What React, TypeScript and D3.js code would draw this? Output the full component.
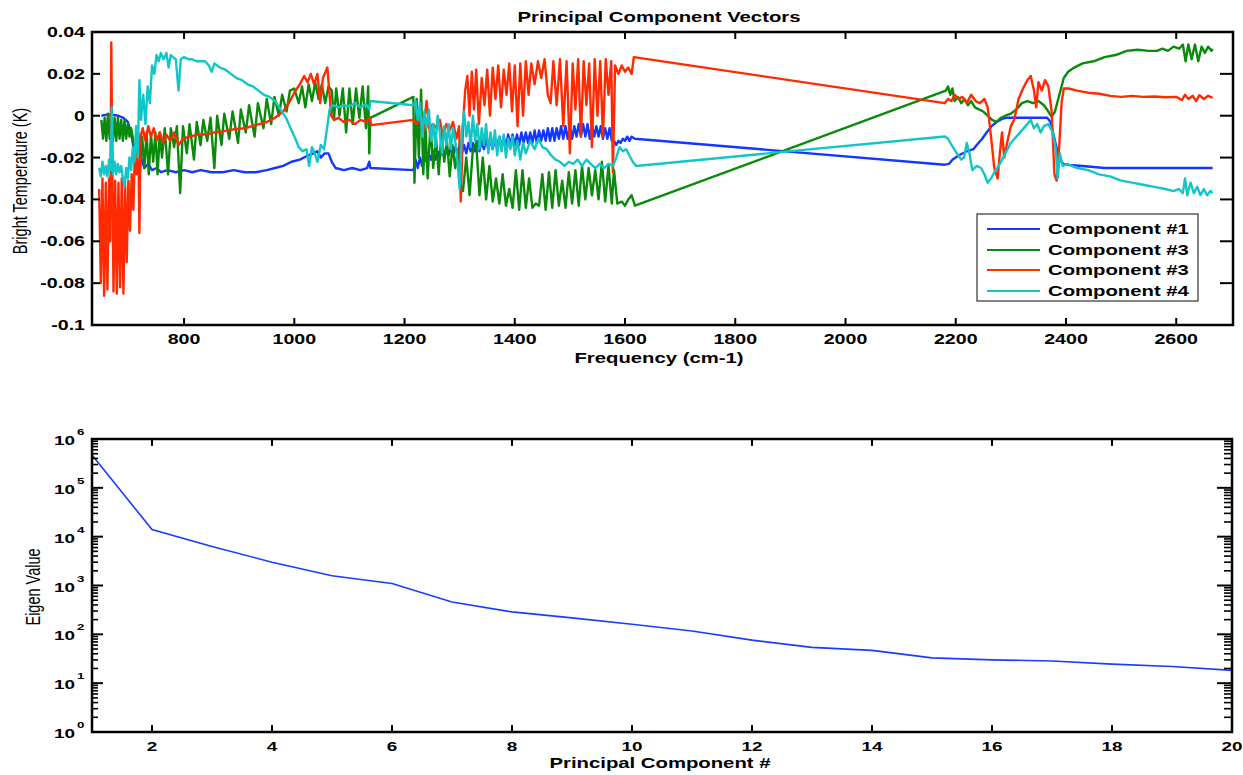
import * as d3 from "d3";

type Pt = [number, number];

// principal component vectors, [frequency cm-1, value]
const comp1: Pt[] = [
  [650, 0], [660, 0.0005], [670, 0.0005], [680, 0], [690, -0.001], [698, -0.003], [704, -0.008],
  [710, -0.018], [716, -0.022], [722, -0.02], [728, -0.025], [735, -0.023], [742, -0.026], [750, -0.025],
  [758, -0.027], [770, -0.026], [785, -0.027], [800, -0.026], [815, -0.027], [830, -0.026], [850, -0.027],
  [870, -0.027], [890, -0.026], [910, -0.027], [930, -0.027], [950, -0.026], [965, -0.025], [980, -0.024],
  [995, -0.022], [1010, -0.021], [1025, -0.019], [1035, -0.018], [1042, -0.017], [1048, -0.02], [1055, -0.018],
  [1062, -0.018], [1068, -0.022], [1075, -0.025], [1090, -0.026], [1105, -0.025], [1120, -0.026], [1132, -0.025],
  [1136, -0.022], [1138, -0.025], [1216, -0.026], [1220, -0.021], [1224, -0.025], [1228, -0.02], [1232, -0.024],
  [1236, -0.019], [1240, -0.022], [1244, -0.018], [1248, -0.021], [1252, -0.017], [1256, -0.021], [1260, -0.017],
  [1264, -0.02], [1268, -0.016], [1272, -0.02], [1276, -0.016], [1280, -0.019], [1284, -0.015], [1288, -0.019],
  [1292, -0.015], [1296, -0.018], [1300, -0.014], [1304, -0.018], [1308, -0.014], [1312, -0.018], [1316, -0.013],
  [1320, -0.017], [1324, -0.013], [1328, -0.017], [1332, -0.012], [1336, -0.017], [1340, -0.012], [1344, -0.016],
  [1348, -0.011], [1352, -0.016], [1356, -0.011], [1360, -0.016], [1364, -0.011], [1368, -0.015], [1372, -0.01],
  [1376, -0.015], [1380, -0.01], [1384, -0.015], [1388, -0.009], [1392, -0.014], [1396, -0.009], [1400, -0.014],
  [1404, -0.009], [1408, -0.014], [1412, -0.008], [1416, -0.013], [1420, -0.008], [1424, -0.013], [1428, -0.008],
  [1432, -0.013], [1436, -0.007], [1440, -0.013], [1444, -0.007], [1448, -0.012], [1452, -0.007], [1456, -0.012],
  [1460, -0.006], [1464, -0.012], [1468, -0.006], [1472, -0.012], [1476, -0.006], [1480, -0.011], [1484, -0.005],
  [1488, -0.011], [1492, -0.005], [1496, -0.011], [1500, -0.005], [1504, -0.011], [1508, -0.005], [1512, -0.01],
  [1516, -0.004], [1520, -0.01], [1524, -0.004], [1528, -0.01], [1532, -0.004], [1536, -0.011], [1540, -0.004],
  [1544, -0.01], [1548, -0.005], [1552, -0.01], [1556, -0.005], [1560, -0.011], [1564, -0.006], [1568, -0.011],
  [1572, -0.006], [1576, -0.012], [1580, -0.012], [1584, -0.014], [1588, -0.012], [1592, -0.013], [1596, -0.011],
  [1600, -0.012], [1604, -0.01], [1608, -0.012], [1612, -0.01], [1618, -0.011],
  [2180, -0.0234], [2188, -0.023], [2194, -0.021], [2205, -0.019], [2220, -0.017], [2232, -0.016], [2238, -0.014],
  [2248, -0.011], [2256, -0.008], [2265, -0.005], [2274, -0.003], [2284, -0.0015], [2292, -0.001], [2330, -0.001],
  [2366, -0.001], [2372, -0.003], [2380, -0.012], [2388, -0.021], [2395, -0.023], [2405, -0.0235], [2430, -0.024],
  [2470, -0.025], [2520, -0.025], [2570, -0.025], [2620, -0.025], [2666, -0.025],
];

const comp2: Pt[] = [
  [650, -0.002], [653, -0.011], [656, -0.001], [659, -0.012], [662, 0.001], [665, -0.011], [668, 0.002],
  [671, -0.012], [674, -0.001], [677, -0.012], [680, -0.001], [683, -0.011], [686, -0.002], [689, -0.012],
  [692, -0.002], [695, -0.011], [698, -0.004], [701, -0.01], [704, -0.006], [708, -0.012], [712, -0.02],
  [716, -0.008], [720, -0.027], [724, -0.01], [728, -0.025], [732, -0.008], [736, -0.028], [740, -0.009],
  [744, -0.022], [748, -0.008], [752, -0.028], [756, -0.008], [760, -0.02], [765, -0.006], [771, -0.028],
  [776, -0.006], [782, -0.015], [787, -0.005], [793, -0.037], [798, -0.005], [805, -0.018], [810, -0.004],
  [818, -0.021], [823, -0.003], [830, -0.014], [835, -0.002], [842, -0.012], [848, -0.001], [855, -0.025],
  [860, 0.0], [868, -0.014], [873, 0.001], [882, -0.011], [888, 0.002], [898, -0.013], [903, 0.003],
  [912, -0.008], [918, 0.005], [928, -0.01], [934, 0.006], [944, -0.006], [950, 0.008], [958, -0.004],
  [964, 0.009], [972, 0.0], [978, 0.01], [986, 0.002], [992, 0.012], [1000, 0.013], [1008, 0.006],
  [1014, 0.014], [1020, 0.004], [1026, 0.015], [1032, 0.007], [1038, 0.016], [1044, 0.008], [1050, 0.015],
  [1056, 0.006], [1062, 0.014], [1068, 0.012], [1072, -0.002], [1076, 0.013], [1082, 0.0], [1088, 0.013],
  [1094, -0.008], [1100, 0.013], [1106, -0.004], [1112, 0.013], [1118, -0.001], [1124, 0.014], [1130, -0.006],
  [1134, 0.014], [1136, -0.018], [1138, -0.001], [1216, 0.009], [1218, -0.032], [1222, 0.008], [1226, -0.02],
  [1230, 0.0124], [1234, -0.028], [1238, -0.005], [1242, -0.03], [1247, -0.004], [1252, -0.025], [1257, -0.01],
  [1262, -0.028], [1267, -0.008], [1272, -0.022], [1277, -0.012], [1282, -0.029], [1287, -0.014], [1292, -0.025],
  [1297, -0.016], [1302, -0.033], [1306, -0.036], [1312, -0.02], [1318, -0.038], [1324, -0.016], [1330, -0.013],
  [1336, -0.038], [1342, -0.02], [1348, -0.04], [1354, -0.024], [1360, -0.041], [1366, -0.03], [1372, -0.042],
  [1378, -0.028], [1384, -0.043], [1390, -0.035], [1396, -0.044], [1402, -0.026], [1408, -0.045], [1414, -0.026],
  [1420, -0.044], [1426, -0.03], [1432, -0.044], [1438, -0.042], [1444, -0.043], [1450, -0.028], [1456, -0.045],
  [1462, -0.027], [1468, -0.044], [1474, -0.026], [1480, -0.043], [1486, -0.031], [1492, -0.044], [1498, -0.027],
  [1504, -0.042], [1510, -0.026], [1516, -0.043], [1522, -0.024], [1528, -0.04], [1534, -0.025], [1540, -0.038],
  [1546, -0.026], [1552, -0.04], [1558, -0.022], [1564, -0.041], [1570, -0.024], [1576, -0.042], [1580, -0.026],
  [1586, -0.042], [1594, -0.041], [1600, -0.043], [1606, -0.04], [1612, -0.038], [1618, -0.043],
  [2182, 0.012], [2186, 0.014], [2190, 0.01], [2194, 0.013], [2198, 0.007], [2204, 0.009], [2210, 0.006],
  [2216, 0.008], [2222, 0.005], [2228, 0.007], [2235, 0.004], [2242, 0.003], [2250, 0.002], [2258, 0.0],
  [2266, -0.002], [2274, -0.003], [2282, -0.001], [2290, 0.0], [2300, 0.001], [2310, 0.003], [2320, 0.006],
  [2330, 0.007], [2340, 0.006], [2350, 0.007], [2360, 0.005], [2368, 0.002], [2374, -0.0005], [2380, 0.002],
  [2388, 0.01], [2396, 0.018], [2404, 0.021], [2415, 0.023], [2430, 0.025], [2450, 0.026], [2470, 0.028],
  [2490, 0.029], [2510, 0.031], [2530, 0.0315], [2550, 0.031], [2565, 0.031], [2575, 0.032], [2585, 0.031],
  [2595, 0.033], [2605, 0.032], [2612, 0.034], [2617, 0.026], [2622, 0.034], [2628, 0.027], [2634, 0.034],
  [2640, 0.026], [2646, 0.033], [2652, 0.03], [2658, 0.033], [2664, 0.031], [2666, 0.032],
];

const comp3: Pt[] = [
  [646, -0.035], [649, -0.08], [652, -0.03], [655, -0.086], [658, -0.032], [661, -0.083], [664, -0.03],
  [666, -0.06], [668, 0.035], [670, -0.03], [672, -0.084], [675, -0.031], [678, -0.085], [681, -0.032],
  [684, -0.082], [687, -0.03], [690, -0.085], [693, -0.033], [696, -0.07], [699, -0.031], [702, -0.055],
  [705, -0.028], [708, -0.045], [711, -0.015], [714, -0.028], [717, -0.008], [719, -0.056], [721, -0.01],
  [725, -0.006], [730, -0.012], [735, -0.005], [740, -0.01], [745, -0.006], [750, -0.012], [756, -0.008],
  [762, -0.013], [768, -0.009], [775, -0.012], [782, -0.008], [790, -0.014], [798, -0.011], [810, -0.01],
  [825, -0.009], [840, -0.009], [855, -0.008], [870, -0.0075], [890, -0.0065], [910, -0.006], [930, -0.0045],
  [950, -0.003], [965, -0.001], [980, 0.002], [990, 0.006], [1000, 0.011], [1010, 0.015], [1018, 0.019],
  [1024, 0.016], [1030, 0.02], [1036, 0.015], [1042, 0.02], [1047, 0.006], [1052, 0.018], [1060, 0.023],
  [1064, 0.01], [1067, 0.0], [1072, -0.002], [1080, -0.001], [1090, -0.003], [1100, -0.002], [1110, -0.004],
  [1120, -0.002], [1130, -0.003], [1136, -0.001], [1140, -0.0045], [1216, -0.002], [1222, -0.004], [1228, -0.002],
  [1234, -0.007], [1240, 0.007], [1246, -0.008], [1252, -0.004], [1258, -0.006], [1264, -0.002], [1270, -0.01],
  [1276, -0.004], [1282, -0.007], [1288, -0.003], [1294, -0.011], [1299, -0.005], [1302, -0.041], [1306, -0.005],
  [1310, 0.012], [1314, 0.019], [1318, 0.0], [1322, 0.021], [1326, 0.003], [1330, 0.022], [1335, -0.004],
  [1340, 0.018], [1345, 0.005], [1350, 0.022], [1355, 0.0], [1360, 0.023], [1365, 0.008], [1370, 0.024],
  [1375, 0.004], [1380, 0.022], [1385, 0.01], [1390, 0.025], [1395, 0.002], [1400, 0.024], [1405, -0.005],
  [1410, 0.025], [1415, 0.0], [1420, 0.026], [1425, 0.01], [1430, 0.025], [1436, 0.015], [1442, 0.026],
  [1448, 0.018], [1454, 0.027], [1460, 0.01], [1465, 0.006], [1470, 0.026], [1476, 0.005], [1482, 0.027],
  [1488, -0.005], [1494, 0.026], [1500, -0.018], [1505, 0.025], [1510, 0.003], [1515, 0.027], [1520, -0.01],
  [1525, 0.026], [1530, 0.005], [1535, 0.025], [1540, -0.015], [1545, 0.027], [1550, 0.0], [1555, 0.026],
  [1560, -0.01], [1565, 0.027], [1570, 0.01], [1575, 0.026], [1578, -0.027], [1582, 0.024], [1588, 0.02],
  [1594, 0.024], [1600, 0.021], [1606, 0.023], [1612, 0.02], [1616, 0.028],
  [2180, 0.006], [2186, 0.008], [2192, 0.007], [2198, 0.01], [2205, 0.008], [2212, 0.009], [2220, 0.006],
  [2228, 0.01], [2236, 0.007], [2244, 0.006], [2252, 0.008], [2258, 0.004], [2264, -0.01], [2270, -0.025],
  [2276, -0.03], [2280, -0.018], [2284, -0.008], [2288, -0.02], [2294, -0.012], [2300, -0.005], [2306, -0.002],
  [2314, 0.008], [2322, 0.013], [2330, 0.017], [2336, 0.019], [2342, 0.012], [2346, 0.004], [2350, 0.016],
  [2356, 0.012], [2362, 0.017], [2368, 0.014], [2374, 0.002], [2379, -0.028], [2383, -0.031], [2387, -0.018],
  [2392, 0.006], [2396, 0.013], [2405, 0.013], [2420, 0.012], [2440, 0.011], [2460, 0.0105], [2480, 0.0095],
  [2500, 0.009], [2520, 0.0095], [2540, 0.009], [2560, 0.0092], [2580, 0.0088], [2600, 0.009], [2610, 0.0075],
  [2616, 0.01], [2622, 0.008], [2630, 0.0095], [2636, 0.007], [2642, 0.0098], [2650, 0.008], [2658, 0.0095],
  [2666, 0.0085],
];

const comp4: Pt[] = [
  [646, -0.025], [649, -0.029], [652, -0.022], [655, -0.028], [658, -0.024], [661, -0.029], [664, -0.021],
  [667, -0.026], [669, 0.004], [671, -0.028], [674, -0.022], [677, -0.028], [680, -0.023], [683, -0.027],
  [686, -0.024], [689, -0.03], [692, -0.034], [695, -0.025], [698, -0.03], [701, -0.02], [704, -0.026],
  [707, -0.015], [710, -0.022], [713, -0.005], [716, -0.02], [719, 0.017], [722, -0.002], [726, 0.01],
  [730, -0.004], [734, 0.014], [738, 0.006], [742, 0.024], [746, 0.02], [750, 0.029], [754, 0.026],
  [758, 0.03], [763, 0.027], [768, 0.03], [772, 0.023], [776, 0.029], [780, 0.028], [785, 0.027],
  [790, 0.012], [794, 0.027], [800, 0.028], [808, 0.027], [815, 0.027], [822, 0.026], [830, 0.026],
  [838, 0.026], [845, 0.024], [850, 0.021], [855, 0.025], [865, 0.023], [875, 0.022], [885, 0.02],
  [895, 0.018], [905, 0.017], [915, 0.015], [925, 0.014], [935, 0.012], [945, 0.01], [955, 0.009],
  [965, 0.007], [975, 0.003], [985, -0.001], [995, -0.007], [1002, -0.011], [1008, -0.015], [1015, -0.017],
  [1022, -0.016], [1027, -0.024], [1032, -0.015], [1037, -0.018], [1042, -0.022], [1048, -0.014], [1054, -0.016],
  [1060, -0.005], [1064, 0.003], [1070, 0.005], [1080, 0.004], [1090, 0.005], [1100, 0.0045], [1110, 0.006],
  [1120, 0.004], [1130, 0.0055], [1136, 0.003], [1138, 0.007], [1216, 0.005], [1220, 0.007], [1224, -0.002],
  [1228, 0.006], [1232, -0.01], [1236, 0.002], [1240, -0.006], [1244, 0.003], [1248, -0.012], [1252, -0.004],
  [1256, -0.015], [1260, 0.0], [1264, -0.008], [1268, -0.018], [1272, -0.005], [1276, -0.014], [1280, -0.004],
  [1284, -0.016], [1288, -0.006], [1292, -0.012], [1296, -0.022], [1300, -0.035], [1304, -0.008], [1308, 0.002],
  [1312, -0.01], [1316, -0.003], [1320, -0.015], [1324, 0.0], [1328, -0.012], [1332, -0.004], [1336, -0.016],
  [1340, -0.006], [1344, -0.014], [1348, -0.004], [1352, -0.018], [1356, -0.008], [1360, -0.016], [1364, -0.007],
  [1368, -0.019], [1372, -0.01], [1376, -0.017], [1380, -0.009], [1384, -0.02], [1388, -0.011], [1392, -0.016],
  [1396, -0.01], [1400, -0.019], [1405, -0.012], [1410, -0.021], [1415, -0.013], [1420, -0.018], [1428, -0.012],
  [1436, -0.016], [1443, -0.011], [1450, -0.015], [1458, -0.016], [1466, -0.019], [1474, -0.021], [1482, -0.022],
  [1490, -0.024], [1498, -0.022], [1506, -0.023], [1514, -0.021], [1522, -0.024], [1530, -0.021], [1538, -0.023],
  [1546, -0.025], [1554, -0.023], [1562, -0.025], [1570, -0.023], [1578, -0.024], [1584, -0.02], [1590, -0.015],
  [1596, -0.017], [1602, -0.016], [1608, -0.019], [1614, -0.022], [1620, -0.024],
  [2180, -0.0099], [2186, -0.011], [2194, -0.0147], [2202, -0.018], [2210, -0.021], [2215, -0.02], [2220, -0.013],
  [2225, -0.018], [2230, -0.026], [2238, -0.024], [2246, -0.025], [2252, -0.028], [2258, -0.032], [2264, -0.03],
  [2270, -0.027], [2278, -0.024], [2286, -0.02], [2294, -0.016], [2300, -0.013], [2310, -0.01], [2320, -0.007],
  [2330, -0.004], [2336, -0.002], [2342, -0.006], [2348, -0.004], [2354, -0.008], [2360, -0.005], [2368, -0.004],
  [2376, -0.008], [2381, -0.015], [2385, -0.03], [2389, -0.018], [2394, -0.024], [2402, -0.023], [2420, -0.025],
  [2440, -0.026], [2460, -0.028], [2480, -0.029], [2500, -0.031], [2520, -0.032], [2540, -0.033], [2560, -0.034],
  [2580, -0.035], [2595, -0.036], [2605, -0.035], [2612, -0.037], [2616, -0.03], [2620, -0.038], [2626, -0.032],
  [2632, -0.037], [2638, -0.034], [2644, -0.038], [2650, -0.035], [2656, -0.038], [2662, -0.036], [2666, -0.037],
];

const seriesNames = ["Component #1", "Component #3", "Component #3", "Component #4"];
const seriesColors = ["#1238ff", "#0a8a0a", "#ff2a00", "#12c6c8"];

const freqTicks = [800, 1000, 1200, 1400, 1600, 1800, 2000, 2200, 2400, 2600];
const tempTicks = [-0.1, -0.08, -0.06, -0.04, -0.02, 0, 0.02, 0.04];
const tempLabels = ["-0.1", "-0.08", "-0.06", "-0.04", "-0.02", "0", "0.02", "0.04"];

// eigen values per principal component
const compIndex = d3.range(1, 21);
const eigenValues = [
  470000, 14000, 6300, 3000, 1580, 1100, 460, 288, 217, 161,
  117, 76, 54, 47, 33, 30, 28.5, 24.5, 22, 18.3,
];
const pcTicks = [2, 4, 6, 8, 10, 12, 14, 16, 18, 20];
const decades = [0, 1, 2, 3, 4, 5, 6];

const FONT = "'Liberation Sans', Arial, Helvetica, sans-serif";
const SX = 1.4;

const Txt = ({ x, y, anchor = "middle", size = 14, weight = "bold", children }: any) => (
  <text
    transform={`translate(${x},${y}) scale(${SX},1)`}
    textAnchor={anchor}
    fontSize={size}
    fontWeight={weight}
    fontFamily={FONT}
    fill="#000"
  >
    {children}
  </text>
);

const VTxt = ({ x, y, size = 14, children }: any) => (
  <text
    transform={`translate(${x},${y}) scale(${SX},1) rotate(-90)`}
    textAnchor="middle"
    fontSize={size}
    fontFamily={FONT}
    fill="#000"
  >
    {children}
  </text>
);

const App = () => {
  // top panel
  const L = 92, R = 1233, T1 = 32, B1 = 325;
  const x1 = d3.scaleLinear().domain([633, 2703]).range([L, R]);
  const y1 = d3.scaleLinear().domain([-0.1, 0.04]).range([B1, T1]);
  const line1 = d3.line<Pt>().x((d) => x1(d[0])).y((d) => y1(d[1]));
  const series = [comp1, comp2, comp3, comp4];

  // bottom panel
  const T2 = 439, B2 = 732, R2 = 1232;
  const x2 = d3.scaleLinear().domain([1, 20]).range([L, R2]);
  const y2 = d3.scaleLog().domain([1, 1e6]).range([B2, T2]);
  const line2 = d3.line<number>().x((_, i) => x2(compIndex[i])).y((d) => y2(d));

  const minor: number[] = [];
  decades.slice(0, -1).forEach((d) => {
    for (let k = 2; k <= 9; k++) minor.push(k * Math.pow(10, d));
  });

  const legX = 977, legY = 214;
  const legRows = [229, 250, 270, 291];

  return (
    <svg width={1243} height={775} style={{ position: "absolute", left: 0, top: 0, background: "#fff" }}>
      <rect width={1243} height={775} fill="#fff" />

      {/* ---------- top: principal component vectors ---------- */}
      <Txt x={659} y={22} size={14.5}>Principal Component Vectors</Txt>
      <g fill="none" strokeLinejoin="round">
        {series.map((s, i) => (
          <path key={i} d={line1(s) || undefined} stroke={seriesColors[i]} strokeWidth={2.4} />
        ))}
      </g>
      <g stroke="#000" strokeWidth={2}>
        {freqTicks.map((t) => (
          <g key={t}>
            <line x1={x1(t)} x2={x1(t)} y1={B1} y2={B1 - 7} />
            <line x1={x1(t)} x2={x1(t)} y1={T1} y2={T1 + 7} />
          </g>
        ))}
        {tempTicks.map((t) => (
          <g key={t}>
            <line x1={L} x2={L + 8} y1={y1(t)} y2={y1(t)} />
            <line x1={R} x2={R - 13} y1={y1(t)} y2={y1(t)} />
          </g>
        ))}
      </g>
      <rect x={L} y={T1} width={R - L} height={B1 - T1} fill="none" stroke="#000" strokeWidth={2.5} />
      {freqTicks.map((t) => (
        <Txt key={t} x={x1(t)} y={344} size={14}>{t}</Txt>
      ))}
      {tempTicks.map((t, i) => (
        <Txt key={t} x={85} y={y1(t) + 5} anchor="end" size={14}>{tempLabels[i]}</Txt>
      ))}
      <Txt x={659} y={363} size={14.5}>Frequency (cm-1)</Txt>
      <VTxt x={27} y={181} size={14.5}>Bright Temperature (K)</VTxt>

      {/* legend */}
      <rect x={legX} y={legY} width={221} height={87} fill="#fff" stroke="#333" strokeWidth={1.2} />
      {seriesNames.map((n, i) => (
        <g key={i}>
          <line x1={987} x2={1040} y1={legRows[i]} y2={legRows[i]} stroke={seriesColors[i]} strokeWidth={2} />
          <Txt x={1048} y={legRows[i] + 5} anchor="start" size={14.5}>{n}</Txt>
        </g>
      ))}

      {/* ---------- bottom: eigen values ---------- */}
      <path d={line2(eigenValues) || undefined} fill="none" stroke="#1a3cff" strokeWidth={1.6} />
      <g stroke="#000" strokeWidth={2}>
        {pcTicks.map((t) => (
          <g key={t}>
            <line x1={x2(t)} x2={x2(t)} y1={B2} y2={B2 - 7} />
            <line x1={x2(t)} x2={x2(t)} y1={T2} y2={T2 + 7} />
          </g>
        ))}
        {decades.map((d) => (
          <g key={d}>
            <line x1={L} x2={L + 11} y1={y2(Math.pow(10, d))} y2={y2(Math.pow(10, d))} />
            <line x1={R2} x2={R2 - 15} y1={y2(Math.pow(10, d))} y2={y2(Math.pow(10, d))} />
          </g>
        ))}
      </g>
      <g stroke="#000" strokeWidth={1.6}>
        {minor.map((v) => (
          <g key={v}>
            <line x1={L} x2={L + 6} y1={y2(v)} y2={y2(v)} />
            <line x1={R2} x2={R2 - 8} y1={y2(v)} y2={y2(v)} />
          </g>
        ))}
      </g>
      <rect x={L} y={T2} width={R2 - L} height={B2 - T2} fill="none" stroke="#000" strokeWidth={2.5} />
      {pcTicks.map((t) => (
        <Txt key={t} x={x2(t)} y={751} size={13.5}>{t}</Txt>
      ))}
      {decades.map((d) => (
        <g key={d}>
          <Txt x={75} y={y2(Math.pow(10, d)) + 6} anchor="end" size={13.5}>10</Txt>
          <Txt x={77} y={y2(Math.pow(10, d)) - 4} anchor="start" size={9.5}>{d}</Txt>
        </g>
      ))}
      <Txt x={660} y={768} size={14.5}>Principal Component #</Txt>
      <VTxt x={40} y={587} size={14.5}>Eigen Value</VTxt>
    </svg>
  );
};

export default App;
